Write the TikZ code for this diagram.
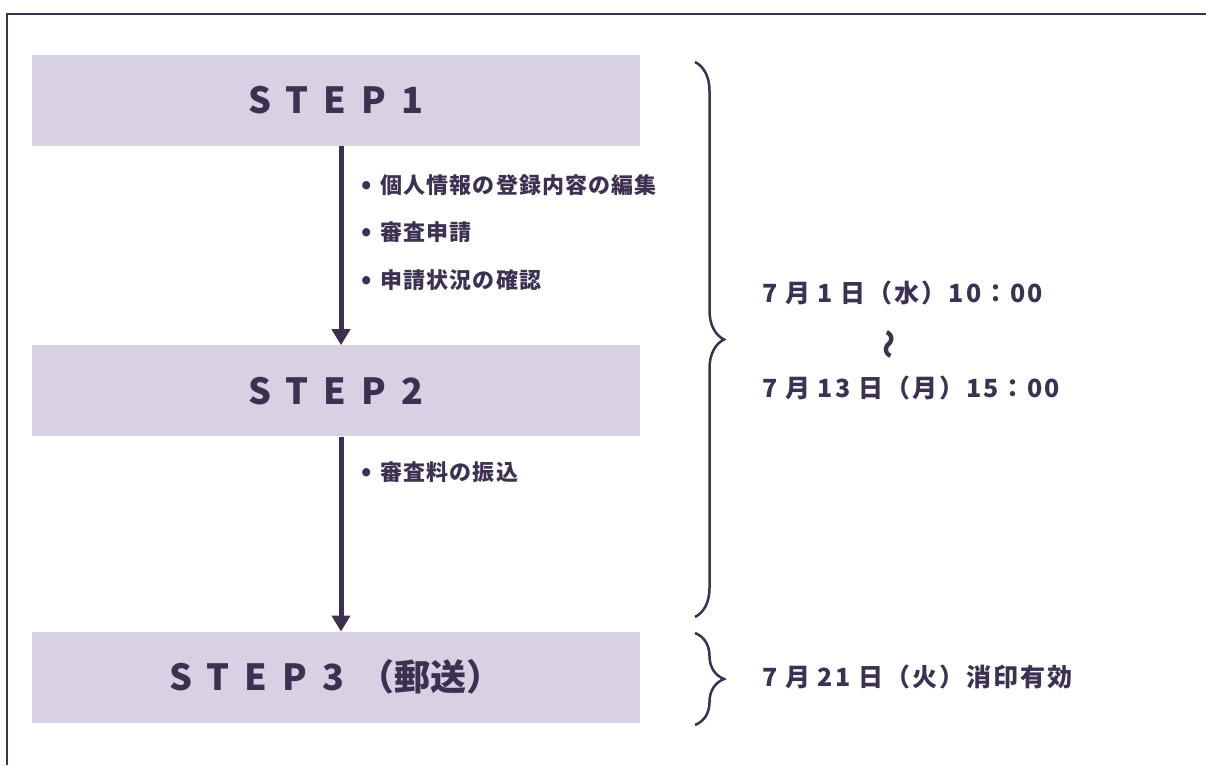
\documentclass[tikz,border=0pt]{standalone}
\usepackage{fontspec}
\setmainfont{Noto Sans CJK JP}
\newfontfamily\stepfont{Noto Sans CJK JP}[LetterSpace=42]
\newfontfamily\itemfont{Noto Sans CJK JP}[LetterSpace=5]
\newfontfamily\datefont{Noto Sans CJK JP}[LetterSpace=8]
\newcommand\dotmark{{\fontsize{26}{26}\selectfont•}\hspace{9pt}}
\usepackage{tikz}
\usetikzlibrary{positioning,arrows.meta,decorations.pathreplacing}
\definecolor{stepfill}{HTML}{D8D1E3}
\definecolor{ink}{HTML}{3D3152}

\begin{document}
\begin{tikzpicture}[x=1pt,y=1pt,>={Triangle[width=18pt,length=16pt]},
  stepbox/.style={rectangle,fill=stepfill,minimum width=608pt,minimum height=91pt,inner sep=0pt,text=ink,font=\bfseries\fontsize{36}{40}\selectfont},
  item/.style={anchor=west,inner sep=0pt,text=ink,font=\itemfont\bfseries\fontsize{22}{26}\selectfont},
  date/.style={anchor=west,inner sep=0pt,text=ink,font=\datefont\bfseries\fontsize{25}{29}\selectfont},
  flow/.style={->,draw=ink,line width=5pt},
  period/.style={draw=ink,line width=2.5pt,decorate,decoration={brace,amplitude=29pt}}]

\useasboundingbox (0,0) rectangle (1206,765);
% outer frame, only its left and top edges fall inside the page
\draw[ink,line width=2.5pt] (7,0) |- (1206,751);

% Steps
\node[stepbox] (S1) at (336,664.5) {{\stepfont STEP1}};
\node[stepbox,below=199pt of S1] (S2) {{\stepfont STEP2}};
\node[stepbox,below=195pt of S2] (S3) {{\stepfont STEP3}\hspace{14pt}（郵送）};

% Flows between steps
\draw[flow] ([xshift=5pt]S1.south) -- ([xshift=5pt]S2.north);
\draw[flow] ([xshift=5pt]S2.south) -- ([xshift=5pt]S3.north);

% Tasks
\node[item] (T1) at ([xshift=25pt,yshift=-39pt]S1.south) {\dotmark 個人情報の登録内容の編集};
\node[item,below=47pt of T1.west,anchor=west] (T2) {\dotmark 審査申請};
\node[item,below=48pt of T2.west,anchor=west] (T3) {\dotmark 申請状況の確認};
\node[item] (T4) at ([xshift=25pt,yshift=-36pt]S2.south) {\dotmark 審査料の振込};

% Periods
\coordinate (P1a) at (695,703);
\coordinate (P1b) at (695,148);
\coordinate (P2a) at (695,132);
\coordinate (P2b) at (695,40);
\draw[period] (P1a) -- (P1b);
\draw[period] (P2a) -- (P2b);

% Dates
\node[date] (D1) at (762,472) {7 月 1 日（水）10：00};
\node[date,anchor=center,rotate=90,font=\bfseries\fontsize{30}{34}\selectfont] (D0) at (892,420) {〜};
\node[date] (D2) at (762,377) {7 月 13 日（月）15：00};
\node[date] (D3) at (762,88) {7 月 21 日（火）消印有効};
\end{tikzpicture}
\end{document}
